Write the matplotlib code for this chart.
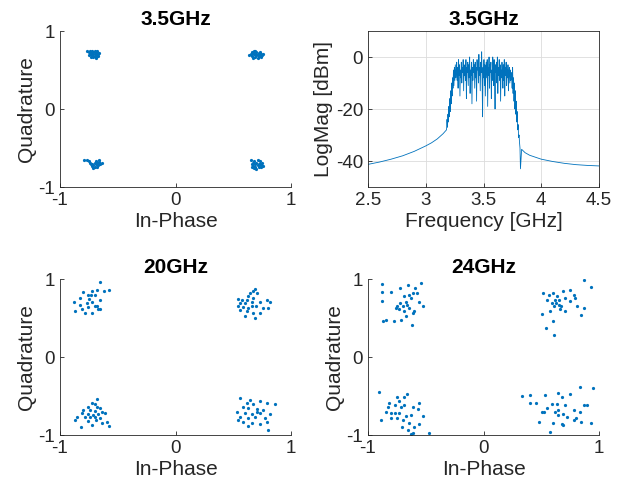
import numpy as np
import matplotlib
matplotlib.use('Agg')
import matplotlib.pyplot as plt

plt.rcParams['font.family'] = ['Liberation Sans', 'DejaVu Sans']
plt.rcParams['axes.unicode_minus'] = False

blue = '#0072BD'
dark = '#262626'

# ---- constellation data (I, Q) ----
c35_i = [-0.77, -0.75, -0.74, -0.73, -0.72, -0.72, -0.71, -0.70, -0.70, -0.69, -0.68, -0.68,
         -0.67, -0.73, -0.71, -0.69, -0.74, -0.70, -0.66, -0.72, -0.75, -0.68, -0.71, -0.67,
         0.64, 0.65, 0.66, 0.67, 0.68, 0.68, 0.69, 0.70, 0.70, 0.71, 0.72, 0.72,
         0.73, 0.74, 0.75, 0.69, 0.71, 0.67, 0.73, 0.76, 0.66, 0.70, 0.74,
         -0.79, -0.77, -0.75, -0.74, -0.72, -0.71, -0.70, -0.69, -0.68, -0.67, -0.66,
         -0.65, -0.70, -0.72, -0.68, -0.66, -0.69, -0.73, -0.71, -0.67, -0.64,
         0.65, 0.66, 0.67, 0.68, 0.69, 0.69, 0.70, 0.71, 0.71, 0.72, 0.73,
         0.74, 0.75, 0.68, 0.70, 0.66, 0.73, 0.76, 0.67, 0.72, 0.74]
c35_q = [0.75, 0.73, 0.70, 0.72, 0.69, 0.74, 0.71, 0.68, 0.73, 0.70, 0.72, 0.68,
         0.70, 0.67, 0.67, 0.66, 0.74, 0.75, 0.72, 0.71, 0.69, 0.74, 0.73, 0.68,
         0.69, 0.71, 0.68, 0.72, 0.70, 0.74, 0.67, 0.71, 0.73, 0.69, 0.72, 0.68,
         0.70, 0.71, 0.69, 0.75, 0.66, 0.66, 0.73, 0.70, 0.73, 0.69, 0.67,
         -0.65, -0.66, -0.67, -0.69, -0.70, -0.72, -0.74, -0.71, -0.69, -0.72, -0.68,
         -0.70, -0.69, -0.73, -0.75, -0.66, -0.67, -0.71, -0.76, -0.70, -0.69,
         -0.66, -0.70, -0.73, -0.67, -0.71, -0.75, -0.69, -0.72, -0.66, -0.74, -0.70,
         -0.72, -0.69, -0.76, -0.77, -0.74, -0.67, -0.73, -0.69, -0.70, -0.75]

c20_i = [-0.654, -0.576, -0.62, -0.68, -0.72, -0.80, -0.88, -0.83, -0.76, -0.75, -0.70, -0.654,
         -0.77, -0.72, -0.68, -0.87, -0.81, -0.78, -0.72, -0.70, -0.67, -0.65, -0.76, -0.83, -0.73,
         0.688, 0.674, 0.645, 0.703, 0.63, 0.674, 0.544, 0.573, 0.616, 0.66, 0.558, 0.60, 0.73, 0.79,
         0.818, 0.544, 0.587, 0.63, 0.70, 0.76, 0.80, 0.558, 0.616, 0.674, 0.60, 0.688, 0.73, 0.66,
         -0.683, -0.726, -0.70, -0.755, -0.683, -0.654, -0.80, -0.74, -0.70, -0.64, -0.81, -0.76,
         -0.717, -0.668, -0.61, -0.856, -0.784, -0.74, -0.70, -0.654, -0.596, -0.87, -0.82, -0.726,
         -0.64, -0.58, -0.755, -0.69,
         0.558, 0.645, 0.73, 0.616, 0.674, 0.79, 0.86, 0.53, 0.587, 0.63, 0.703, 0.76, 0.60, 0.66,
         0.73, 0.82, 0.558, 0.63, 0.688, 0.775, 0.587, 0.66, 0.73, 0.80, 0.63, 0.544, 0.703, 0.79]
c20_q = [0.96, 0.854, 0.84, 0.86, 0.84, 0.83, 0.71, 0.76, 0.79, 0.74, 0.79, 0.73,
         0.69, 0.71, 0.66, 0.59, 0.61, 0.57, 0.57, 0.65, 0.62, 0.61, 0.64, 0.67, 0.80,
         0.876, 0.84, 0.82, 0.82, 0.78, 0.756, 0.743, 0.73, 0.726, 0.70, 0.69, 0.69, 0.71, 0.726,
         0.71, 0.65, 0.64, 0.627, 0.65, 0.627, 0.627, 0.606, 0.585, 0.563, 0.52, 0.50, 0.57, 0.66,
         -0.537, -0.593, -0.60, -0.636, -0.636, -0.657, -0.68, -0.68, -0.687, -0.70, -0.72, -0.73,
         -0.743, -0.734, -0.72, -0.764, -0.764, -0.773, -0.764, -0.786, -0.83, -0.81, -0.893, -0.87,
         -0.85, -0.884, -0.816, -0.81,
         -0.53, -0.55, -0.56, -0.593, -0.60, -0.593, -0.60, -0.70, -0.636, -0.657, -0.67, -0.68,
         -0.72, -0.73, -0.72, -0.73, -0.764, -0.786, -0.773, -0.786, -0.83, -0.85, -0.86, -0.94,
         -0.884, -0.807, -0.70, -0.83]

c24_i = [-0.88, -0.54, -0.657, -0.59, -0.724, -0.88, -0.80, -0.614, -0.58, -0.643, -0.686, -0.875,
         -0.628, -0.72, -0.67, -0.56, -0.745, -0.70, -0.66, -0.527, -0.73, -0.686, -0.614, -0.60,
         -0.672, -0.715, -0.846, -0.87, -0.774, -0.62, -0.76, -0.643,
         0.866, 0.93, 0.518, 0.57, 0.605, 0.686, 0.75, 0.634, 0.707, 0.78, 0.79, 0.547, 0.59,
         0.628, 0.65, 0.61, 0.67, 0.75, 0.81, 0.87, 0.509, 0.576, 0.66, 0.707, 0.84, 0.605, 0.54,
         0.61, 0.657, 0.62,
         -0.904, -0.666, -0.69, -0.753, -0.556, -0.73, -0.817, -0.77, -0.686, -0.717, -0.83, -0.614,
         -0.57, -0.846, -0.80, -0.765, -0.73, -0.672, -0.628, -0.527, -0.89, -0.80, -0.745, -0.70,
         -0.643, -0.556, -0.707, -0.657, -0.614, -0.628, -0.475, -0.60,
         0.335, 0.40, 0.53, 0.832, 0.948, 0.648, 0.75, 0.677, 0.40, 0.454, 0.59, 0.64, 0.707, 0.866,
         0.90, 0.547, 0.648, 0.78, 0.504, 0.52, 0.62, 0.648, 0.686, 0.832, 0.72, 0.80, 0.78, 0.48,
         0.60, 0.677, 0.69, 0.84, 0.927, 0.576]
c24_q = [0.94, 0.95, 0.92, 0.88, 0.88, 0.83, 0.83, 0.82, 0.82, 0.80, 0.78, 0.72,
         0.756, 0.69, 0.70, 0.70, 0.66, 0.66, 0.67, 0.65, 0.61, 0.585, 0.563, 0.59,
         0.52, 0.48, 0.47, 0.456, 0.456, 0.41, 0.63, 0.63,
         0.99, 0.897, 0.82, 0.80, 0.82, 0.84, 0.863, 0.777, 0.756, 0.80, 0.756, 0.734, 0.69,
         0.69, 0.67, 0.65, 0.65, 0.713, 0.65, 0.627, 0.55, 0.585, 0.615, 0.585, 0.54, 0.456, 0.37,
         0.285, 0.726, 0.726,
         -0.443, -0.47, -0.51, -0.516, -0.593, -0.57, -0.585, -0.615, -0.615, -0.644, -0.644, -0.644,
         -0.67, -0.70, -0.72, -0.713, -0.72, -0.75, -0.743, -0.75, -0.807, -0.786, -0.786, -0.807,
         -0.85, -0.86, -0.893, -0.936, -0.97, -0.99, -0.98, -0.893,
         -0.495, -0.486, -0.486, -0.38, -0.392, -0.464, -0.473, -0.507, -0.593, -0.593, -0.606, -0.60,
         -0.615, -0.615, -0.615, -0.657, -0.68, -0.68, -0.70, -0.71, -0.70, -0.743, -0.73, -0.70,
         -0.764, -0.786, -0.807, -0.837, -0.85, -0.86, -0.87, -0.83, -0.85, -0.957]

# ---- spectrum data (GHz, dBm) ----
skirt_lo_f = [2.5, 2.6, 2.7, 2.8, 2.9, 3.0, 3.05, 3.1, 3.15, 3.18]
skirt_lo_db = [-41.3, -40.4, -39.3, -38.0, -36.3, -34.2, -33.0, -31.5, -29.5, -28.0]

band_rise = [-28, -24, -27, -22, -25, -19, -23, -16, -21, -13, -18, -10, -15, -8, -12, -5,
             -11, -4, -9, -3, -8]
band_top = [-6, -2, -9, -4, -12, -1, -7, -3, -15, -5, -8, -2, -10, -4, -6, -1, -13, -3, -7, -5,
            -9, -1, -16, -4, -6, -2, -11, -3, -8, 0, -14, -5, -7, -2, -18, -4, -9, -1, -6, -3,
            -12, -2, -8, -4, -17, -1, -5, -3, -10, 1, -7, -4, -13, -2, -6, 2, -9, -23, -4, -8,
            -1, -11, -3, -15, -5, -2, -8, -1, -19, -4, -7, 0, -12, -3, -6, -2, -16, -5, -9, 0,
            -4, -11, -1, -7, -20, -3, -6, -2, -10, 0, -14, -4, -7, -1, -9, -3, -17, -5, -8, -2,
            -6, -12, -3, -9, -1, -15, -4, -7, -2, -11, -5, -8, -3, -13, -6, -4, -10, -5, -9, -7]
band_fall = [-6, -12, -4, -14, -8, -17, -10, -20, -13, -22, -17, -25, -21, -28, -26, -31,
             -30, -33, -35, -43]

skirt_hi_f = [3.83, 3.86, 3.9, 4.0, 4.1, 4.2, 4.3, 4.4, 4.5]
skirt_hi_db = [-35.5, -36.8, -37.8, -39.3, -40.2, -40.9, -41.4, -41.7, -41.9]

band_db = band_rise + band_top + band_fall
band_f = np.linspace(3.18, 3.82, len(band_db))
spec_f = np.concatenate([skirt_lo_f[:-1], band_f, skirt_hi_f])
spec_db = np.concatenate([skirt_lo_db[:-1], band_db, skirt_hi_db])

W, H = 617, 491
fig = plt.figure(figsize=(W / 100, H / 100), dpi=100)

def box(x0, y0, x1, y1):
    return [x0 / W, 1 - y1 / H, (x1 - x0) / W, (y1 - y0) / H]

tick_fs = 13.5
lab_fs = 15


def style(ax):
    ax.tick_params(direction='in', colors=dark, labelsize=tick_fs, length=3, width=0.6)
    for s in ax.spines.values():
        s.set_color(dark)
        s.set_linewidth(0.6)


def constellation(ax, i, q, title):
    ax.plot(i, q, '.', color=blue, markersize=2.6, linestyle='none')
    ax.set_xlim(-1, 1)
    ax.set_ylim(-1, 1)
    ax.set_xticks([-1, 0, 1])
    ax.set_yticks([-1, 0, 1])
    ax.spines['top'].set_visible(False)
    ax.spines['right'].set_visible(False)
    style(ax)
    ax.set_xlabel('In-Phase', fontsize=lab_fs, color=dark, labelpad=2)
    ax.set_ylabel('Quadrature', fontsize=lab_fs, color=dark, labelpad=2)
    ax.set_title(title, fontsize=lab_fs, fontweight='bold', pad=4)


ax1 = fig.add_axes(box(60, 31, 291, 187))
constellation(ax1, c35_i, c35_q, '3.5GHz')

ax2 = fig.add_axes(box(368, 31, 599, 187))
ax2.plot(spec_f, spec_db, color=blue, linewidth=0.6)
ax2.set_xlim(2.5, 4.5)
ax2.set_ylim(-50, 10)
ax2.set_xticks([2.5, 3, 3.5, 4, 4.5])
ax2.set_xticklabels(['2.5', '3', '3.5', '4', '4.5'])
ax2.set_yticks([-40, -20, 0])
ax2.grid(True, color='#dcdcdc', linewidth=0.6)
ax2.set_axisbelow(True)
style(ax2)
ax2.set_xlabel('Frequency [GHz]', fontsize=lab_fs, color=dark, labelpad=2)
ax2.set_ylabel('LogMag [dBm]', fontsize=lab_fs, color=dark, labelpad=2)
ax2.set_title('3.5GHz', fontsize=lab_fs, fontweight='bold', pad=4)

ax3 = fig.add_axes(box(60, 279, 291, 435))
constellation(ax3, c20_i, c20_q, '20GHz')

ax4 = fig.add_axes(box(368, 279, 599, 435))
constellation(ax4, c24_i, c24_q, '24GHz')

fig.savefig('out.png', dpi=100)
